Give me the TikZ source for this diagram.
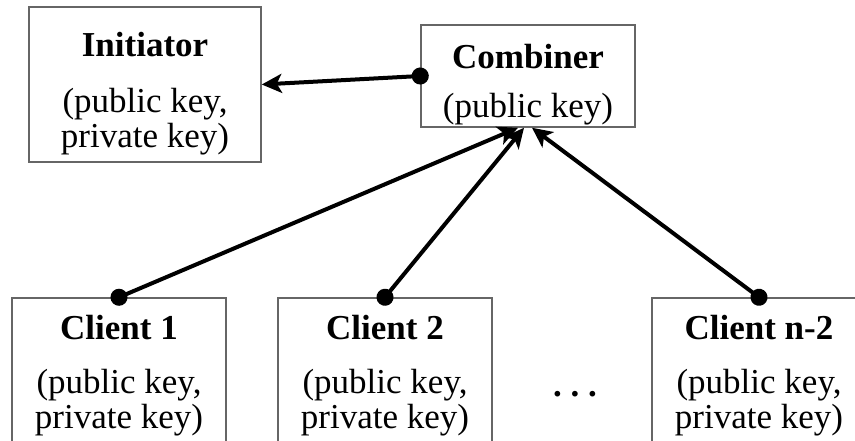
\documentclass[tikz,border=0pt]{standalone}
\usepackage{fontspec}
\setmainfont{Liberation Serif}
\usepackage{tikz}
\usetikzlibrary{arrows.meta, positioning}

\begin{document}
\begin{tikzpicture}[
    x=0.5pt, y=-0.5pt,
    party/.style={draw=black!60, line width=0.75pt, minimum width=#1, align=center,
        font=\fontsize{17.5}{17.5}\selectfont, inner sep=0pt},
    party/.default=107pt,
    link/.style={{Circle[length=8.5pt]}-{Stealth[length=10pt, width=9.5pt, inset=2.5pt]},
        line width=2pt, shorten <=-4.25pt}
]
\useasboundingbox (0,0) rectangle (855,440);

\node[party=116pt, minimum height=77.5pt] (init) at (145,84.5)
    {\rule{0pt}{21.5pt}\textbf{Initiator}\\[10.5pt](public key,\\private key)};
\node[party, minimum height=51pt] (comb) at (528,76)
    {\rule{0pt}{21pt}\textbf{Combiner}\\[7pt](public key)};

\node[party, minimum height=78pt] (cl1) at (119,376)
    {\textbf{Client 1}\\[9.5pt](public key,\\private key)};
\node[party, minimum height=78pt] (cl2) at (385,376)
    {\textbf{Client 2}\\[9.5pt](public key,\\private key)};
\node[party, minimum height=78pt] (cln) at (759,376)
    {\textbf{Client n-2}\\[9.5pt](public key,\\private key)};
\node[font=\fontsize{17.5}{17.5}\selectfont\bfseries] (dots) at (575,394) {.\ .\ .};

\draw[link] (comb.west) -- (init.east);
\draw[link] (cl1.north) -- ([xshift=-5pt]comb.south);
\draw[link] (cl2.north) -- ([xshift=-2pt]comb.south);
\draw[link] (cln.north) -- ([xshift=2pt]comb.south);
\end{tikzpicture}
\end{document}
